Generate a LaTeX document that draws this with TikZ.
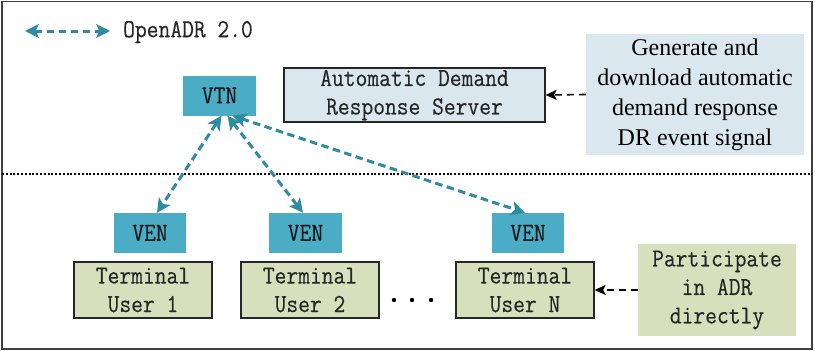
\documentclass[tikz,border=0pt]{standalone}
\usepackage{fontspec}
\setmainfont{Liberation Serif}
\newfontfamily\monof[FakeStretch=0.88,FakeBold=0.3]{Latin Modern Mono}
\usetikzlibrary{arrows.meta}
\definecolor{tealfill}{HTML}{4BACC6}
\definecolor{tealline}{HTML}{2F8AA3}
\definecolor{bluefill}{HTML}{DAE7EF}
\definecolor{olivefill}{HTML}{D8DFBC}
\newcommand{\monoset}{\monof\fontsize{26}{28.5}\selectfont}
\begin{document}
\begin{tikzpicture}[x=1pt,y=-1pt,
  agent/.style={fill=tealfill, inner sep=0pt, font=\monoset, text=black!90},
  plainbox/.style={draw=black!85, line width=1.3pt, inner sep=0pt, align=center, font=\monoset, text=black!85},
  notebox/.style={inner sep=0pt, align=center},
  adrlink/.style={tealline, line width=3pt, dash pattern=on 7.5pt off 4.5pt,
    {Stealth[length=14pt,width=14pt,inset=3.5pt]}-{Stealth[length=14pt,width=14pt,inset=3.5pt]}},
  feed/.style={black, line width=1.6pt, dash pattern=on 7pt off 5pt,
    -{Stealth[length=11pt,width=10pt,inset=2.5pt]}}
]
% page and outer frame
\useasboundingbox (0,0) rectangle (815,351);
\draw[black!75, line width=1.3pt] (2,1.5) rectangle (812,349);
% boundary between server side and user side
\coordinate (sepL) at (2,174);
\coordinate (sepR) at (812,174);
\draw[black, line width=1.7pt, dash pattern=on 2pt off 1.8pt] (sepL) -- (sepR);

% legend
\coordinate (legA) at (25,31);
\coordinate (legB) at (110,31);
\draw[adrlink] (legA) -- (legB);
\node[anchor=west, inner sep=0pt, font=\monoset, text=black!85] (legtext) at (123,32) {OpenADR 2.0};

% server side
\node[agent, minimum width=73pt, minimum height=40pt] (vtn) at (219.5,95.5) {VTN};
\node[plainbox, fill=bluefill, minimum width=261pt, minimum height=54pt] (server) at (414.5,95)
  {Automatic Demand\\Response Server};
\node[notebox, fill=bluefill, minimum width=218pt, minimum height=121pt,
  font=\fontsize{24}{30}\selectfont] (gen) at (695,94.5)
  {Generate and\\download automatic\\demand response\\DR event signal};

% user side
\node[agent, minimum width=72pt, minimum height=40pt] (ven1) at (150,233) {VEN};
\node[agent, minimum width=73pt, minimum height=40pt] (ven2) at (305.5,233) {VEN};
\node[agent, minimum width=72pt, minimum height=40pt] (ven3) at (528,233) {VEN};
\node[plainbox, fill=olivefill, minimum width=138pt, minimum height=56pt] (t1) at (143,290)
  {Terminal\\User 1};
\node[plainbox, fill=olivefill, minimum width=138pt, minimum height=56pt] (t2) at (310,290)
  {Terminal\\User 2};
\node[plainbox, fill=olivefill, minimum width=138pt, minimum height=56pt] (tn) at (525,290)
  {Terminal\\User N};
\node[notebox, fill=olivefill, minimum width=158pt, minimum height=92pt, font=\monoset,
  text=black!85] (part) at (717,290) {Participate\\in ADR\\directly};

% ellipsis between user 2 and user N
\foreach \dx in {394,412,431}
  \fill[black] (\dx,300) circle (2.2pt);

% OpenADR 2.0 links
\draw[adrlink] ([xshift=2pt]vtn.south) -- ([xshift=7pt]ven1.north);
\draw[adrlink] ([xshift=8pt]vtn.south) -- ([xshift=-2.5pt]ven2.north);
\draw[adrlink] ([xshift=13pt]vtn.south) -- ([xshift=-3pt]ven3.north);

% signal flows
\draw[feed] (gen.west) -- (server.east);
\draw[feed] (part.west) -- (tn.east);
\end{tikzpicture}
\end{document}
